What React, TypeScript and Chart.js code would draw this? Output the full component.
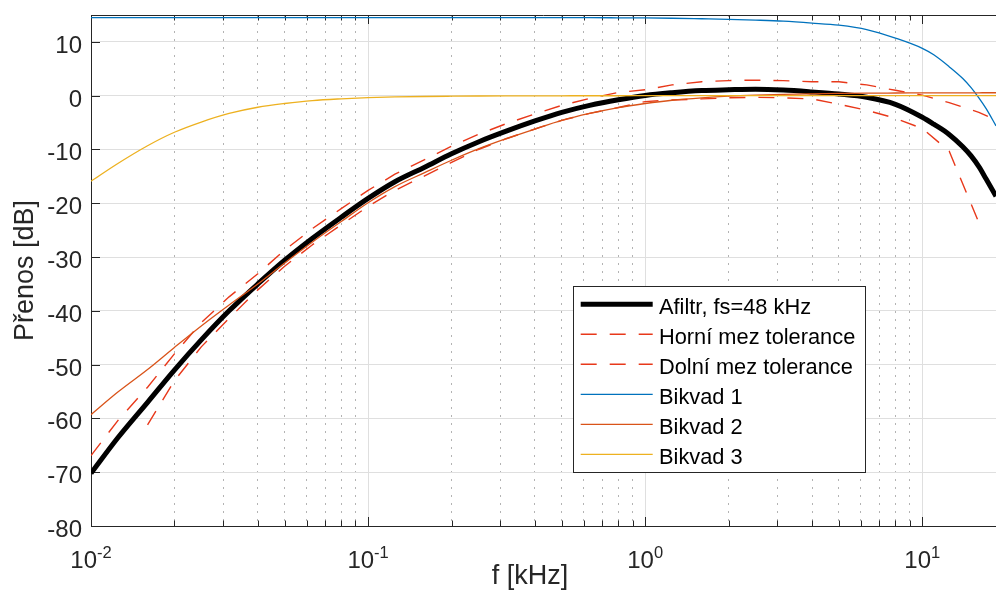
import React, { useEffect, useRef } from "react";
import { Chart, registerables } from "chart.js";

Chart.register(...registerables);

// ---- data (frequency in kHz, level in dB) ----
const freqKHz = [
  0.01, 0.0125, 0.016, 0.02, 0.025, 0.0315, 0.04, 0.05, 0.063, 0.08,
  0.1, 0.125, 0.16, 0.2, 0.25, 0.315, 0.4, 0.5, 0.63, 0.8,
  1, 1.25, 1.6, 2, 2.5, 3.15, 4, 5, 6.3, 8,
  10, 11, 12.5, 14, 15, 16, 17, 18.45,
];

const afiltr = [
  -70.2, -63.6, -57.0, -51.0, -45.4, -40.0, -35.0, -30.6, -26.5, -22.6,
  -19.1, -16.0, -13.3, -10.8, -8.6, -6.6, -4.7, -3.1, -1.8, -0.75,
  0.05, 0.55, 0.95, 1.1, 1.2, 1.05, 0.7, 0.3, -0.3, -1.6,
  -4.0, -5.3, -7.2, -9.5, -11.2, -13.2, -15.5, -18.7,
];

const bikvad1 = [
  14.5, 14.5, 14.5, 14.5, 14.5, 14.5, 14.5, 14.5, 14.5, 14.5,
  14.5, 14.5, 14.5, 14.5, 14.5, 14.5, 14.5, 14.5, 14.5, 14.48,
  14.45, 14.4, 14.3, 14.2, 14.05, 13.85, 13.5, 13.1, 12.3, 10.7,
  8.8, 7.6, 5.4, 3.2, 1.5, -0.4, -2.4, -5.6,
];

const bikvad2 = [
  -59.3, -55.1, -50.9, -46.8, -42.8, -38.9, -35.0, -31.1, -27.2, -23.4,
  -19.9, -16.9, -14.3, -12.0, -9.9, -8.0, -6.2, -4.6, -3.3, -2.2,
  -1.45, -0.85, -0.4, -0.1, 0.1, 0.25, 0.35, 0.42, 0.47, 0.5,
  0.52, 0.53, 0.53, 0.54, 0.54, 0.54, 0.55, 0.55,
];

const bikvad3 = [
  -15.9, -12.6, -9.3, -6.8, -4.9, -3.3, -2.15, -1.45, -0.9, -0.58,
  -0.37, -0.24, -0.15, -0.1, -0.06, -0.04, -0.03, -0.02, -0.01, -0.01,
  0, 0, 0, 0, 0, 0, 0, 0, 0, 0,
  0, 0, 0, 0, 0, 0, 0, 0,
];

const tolFreqKHz = [
  0.01, 0.0125, 0.016, 0.02, 0.025, 0.0315, 0.04, 0.05, 0.063, 0.08,
  0.1, 0.125, 0.16, 0.2, 0.25, 0.315, 0.4, 0.5, 0.63, 0.8,
  1, 1.25, 1.6, 2, 2.5, 3.15, 4, 5, 6.3, 8,
  10, 12.5, 16, 20,
];

const upperTol = [
  -66.9, -60.4, -54.2, -48.0, -42.2, -37.4, -33.1, -28.7, -24.7, -21.0,
  -17.6, -14.6, -11.9, -9.4, -7.2, -5.2, -3.4, -1.8, -0.5, 0.6,
  1.1, 2.0, 2.6, 2.8, 2.9, 2.8, 2.6, 2.6, 2.0, 1.0,
  0.1, -1.3, -3.1, -5.3,
];

const lowerTol = [
  null, null, -61.2, -53.0, -46.7, -41.4, -36.1, -31.7, -27.7, -24.0,
  -20.6, -17.6, -14.9, -12.4, -10.0, -8.0, -6.2, -4.6, -3.3, -2.2,
  -1.1, -0.8, -0.6, -0.4, -0.3, -0.4, -0.6, -1.6, -2.7, -4.2,
  -6.1, -10.3, -23.6, null,
];

const xMin = 0.01;
const xMax = 18.45;
const xTicks = [
  0.01, 0.02, 0.03, 0.04, 0.05, 0.06, 0.07, 0.08, 0.09,
  0.1, 0.2, 0.3, 0.4, 0.5, 0.6, 0.7, 0.8, 0.9,
  1, 2, 3, 4, 5, 6, 7, 8, 9,
  10,
];
const xMajor = [0.01, 0.1, 1, 10];
const xMajorExp = ["-2", "-1", "0", "1"];
const yMin = -80;
const yMax = 15;
const yTicks = [-80, -70, -60, -50, -40, -30, -20, -10, 0, 10];

const legendLabels = [
  "Afiltr, fs=48 kHz",
  "Horní mez tolerance",
  "Dolní mez tolerance",
  "Bikvad 1",
  "Bikvad 2",
  "Bikvad 3",
];
const xTitle = "f [kHz]";
const yTitle = "Přenos [dB]";

// ---- styles ----
const FONT = '"Liberation Sans", Arial, Helvetica, sans-serif';
const AXIS_COLOR = "#262626";
const MAJOR_GRID = "#DFDFDF";
const MINOR_GRID = "#B3B3B3";
const TOL_COLOR = "#E8381A";

const isMajorX = (v: number | undefined) =>
  v !== undefined && xMajor.some((m) => Math.abs(m - v) < m * 1e-6);

const decor = {
  id: "matlabDecor",
  beforeDatasetsDraw(chart: any) {
    const { ctx, chartArea: a, scales } = chart;
    const xs = scales.x;
    const ys = scales.y;
    ctx.save();
    ctx.strokeStyle = AXIS_COLOR;
    ctx.lineWidth = 1;
    ctx.setLineDash([]);
    ctx.beginPath();
    ctx.moveTo(a.left, Math.round(a.top) + 0.5);
    ctx.lineTo(a.right, Math.round(a.top) + 0.5);
    xTicks.forEach((v) => {
      const px = Math.round(xs.getPixelForValue(v)) + 0.5;
      const len = isMajorX(v) ? 9 : 5.5;
      ctx.moveTo(px, a.bottom);
      ctx.lineTo(px, a.bottom - len);
      ctx.moveTo(px, a.top);
      ctx.lineTo(px, a.top + len);
    });
    yTicks.forEach((v) => {
      const py = Math.round(ys.getPixelForValue(v)) + 0.5;
      ctx.moveTo(a.left, py);
      ctx.lineTo(a.left + 9, py);
    });
    ctx.stroke();
    ctx.restore();
  },
  afterDraw(chart: any) {
    const { ctx, chartArea: a, scales } = chart;
    const xs = scales.x;
    const ys = scales.y;
    ctx.save();
    ctx.fillStyle = AXIS_COLOR;
    ctx.textBaseline = "alphabetic";

    // y tick labels
    ctx.font = `24px ${FONT}`;
    ctx.textAlign = "right";
    yTicks.forEach((v) => {
      const py = ys.getPixelForValue(v);
      ctx.fillText(String(v), a.left - 9, py + 11);
    });

    // x tick labels 10^n
    ctx.textAlign = "left";
    xMajor.forEach((v, i) => {
      const px = xs.getPixelForValue(v);
      ctx.font = `24px ${FONT}`;
      const wBase = ctx.measureText("10").width;
      ctx.font = `16.5px ${FONT}`;
      const wExp = ctx.measureText(xMajorExp[i]).width;
      const start = px - (wBase + wExp) / 2;
      ctx.font = `24px ${FONT}`;
      ctx.fillText("10", start, a.bottom + 42);
      ctx.font = `16.5px ${FONT}`;
      ctx.fillText(xMajorExp[i], start + wBase, a.bottom + 32);
    });

    // axis titles
    ctx.font = `27px ${FONT}`;
    ctx.textAlign = "center";
    ctx.fillText(xTitle, 530, a.bottom + 58);
    ctx.save();
    ctx.translate(33, (a.top + a.bottom) / 2);
    ctx.rotate(-Math.PI / 2);
    ctx.fillText(yTitle, 0, 0);
    ctx.restore();

    // legend box
    const bx = 573.5, by = 286.5, bw = 292, bh = 186;
    ctx.fillStyle = "#FFFFFF";
    ctx.fillRect(bx, by, bw, bh);
    ctx.strokeStyle = AXIS_COLOR;
    ctx.lineWidth = 1;
    ctx.setLineDash([]);
    ctx.strokeRect(bx, by, bw, bh);
    ctx.font = `21.8px ${FONT}`;
    ctx.textAlign = "left";
    chart.data.datasets.forEach((ds: any, i: number) => {
      const ry = 304.3 + i * 30;
      ctx.save();
      ctx.strokeStyle = ds.borderColor;
      ctx.lineWidth = ds.borderWidth;
      ctx.setLineDash(ds.borderDash || []);
      ctx.lineCap = "butt";
      ctx.beginPath();
      ctx.moveTo(580.7, ry);
      ctx.lineTo(652.7, ry);
      ctx.stroke();
      ctx.restore();
      ctx.fillStyle = "#000000";
      ctx.fillText(ds.label, 659, ry + 10);
    });
    ctx.restore();
  },
};

export default function App() {
  const ref = useRef<HTMLCanvasElement | null>(null);

  useEffect(() => {
    const canvas = ref.current;
    if (!canvas) return;
    const pts = (xs: number[], ys: (number | null)[]) =>
      xs.map((x, i) => ({ x, y: ys[i] }));

    const chart = new Chart(canvas, {
      type: "line",
      data: {
        datasets: [
          {
            label: legendLabels[0],
            data: pts(freqKHz, afiltr),
            borderColor: "#000000",
            borderWidth: 5,
            cubicInterpolationMode: "monotone",
            order: 6,
          },
          {
            label: legendLabels[1],
            data: pts(tolFreqKHz, upperTol),
            borderColor: TOL_COLOR,
            borderWidth: 1.4,
            borderDash: [16, 13],
            tension: 0,
            order: 5,
          },
          {
            label: legendLabels[2],
            data: pts(tolFreqKHz, lowerTol),
            borderColor: TOL_COLOR,
            borderWidth: 1.4,
            borderDash: [16, 13],
            tension: 0,
            order: 4,
          },
          {
            label: legendLabels[3],
            data: pts(freqKHz, bikvad1),
            borderColor: "#0072BD",
            borderWidth: 1.3,
            cubicInterpolationMode: "monotone",
            order: 3,
          },
          {
            label: legendLabels[4],
            data: pts(freqKHz, bikvad2),
            borderColor: "#D95319",
            borderWidth: 1.3,
            cubicInterpolationMode: "monotone",
            order: 2,
          },
          {
            label: legendLabels[5],
            data: pts(freqKHz, bikvad3),
            borderColor: "#EDB120",
            borderWidth: 1.3,
            cubicInterpolationMode: "monotone",
            order: 1,
          },
        ] as any,
      },
      options: {
        responsive: false,
        animation: false,
        devicePixelRatio: 1,
        events: [],
        layout: { padding: { top: 15, left: 0, right: 0, bottom: 0 } },
        elements: { point: { radius: 0, hoverRadius: 0 }, line: { borderJoinStyle: "round" } },
        plugins: { legend: { display: false }, tooltip: { enabled: false } },
        scales: {
          x: {
            type: "logarithmic",
            min: xMin,
            max: xMax,
            afterBuildTicks: (s: any) => {
              s.ticks = xTicks.map((v) => ({ value: v, major: isMajorX(v) }));
            },
            afterFit: (s: any) => {
              s.height = 64;
            },
            ticks: { display: false },
            grid: {
              drawTicks: false,
              lineWidth: 1,
              color: (c: any) => (isMajorX(c.tick && c.tick.value) ? MAJOR_GRID : MINOR_GRID),
            },
            border: {
              display: true,
              color: AXIS_COLOR,
              width: 1,
              dash: (c: any) =>
                c.type === "tick" && c.tick && !isMajorX(c.tick.value) ? [2, 6] : [],
            },
          },
          y: {
            type: "linear",
            min: yMin,
            max: yMax,
            afterBuildTicks: (s: any) => {
              s.ticks = yTicks.map((v) => ({ value: v }));
            },
            afterFit: (s: any) => {
              s.width = 91;
            },
            ticks: { display: false },
            grid: { drawTicks: false, lineWidth: 1, color: MAJOR_GRID },
            border: { display: true, color: AXIS_COLOR, width: 1 },
          },
        },
      } as any,
      plugins: [decor],
    });
    return () => chart.destroy();
  }, []);

  return (
    <div style={{ position: "absolute", left: 0, top: 0, width: 996, height: 590, background: "#FFFFFF" }}>
      <canvas ref={ref} width={996} height={590} style={{ display: "block" }} />
    </div>
  );
}
